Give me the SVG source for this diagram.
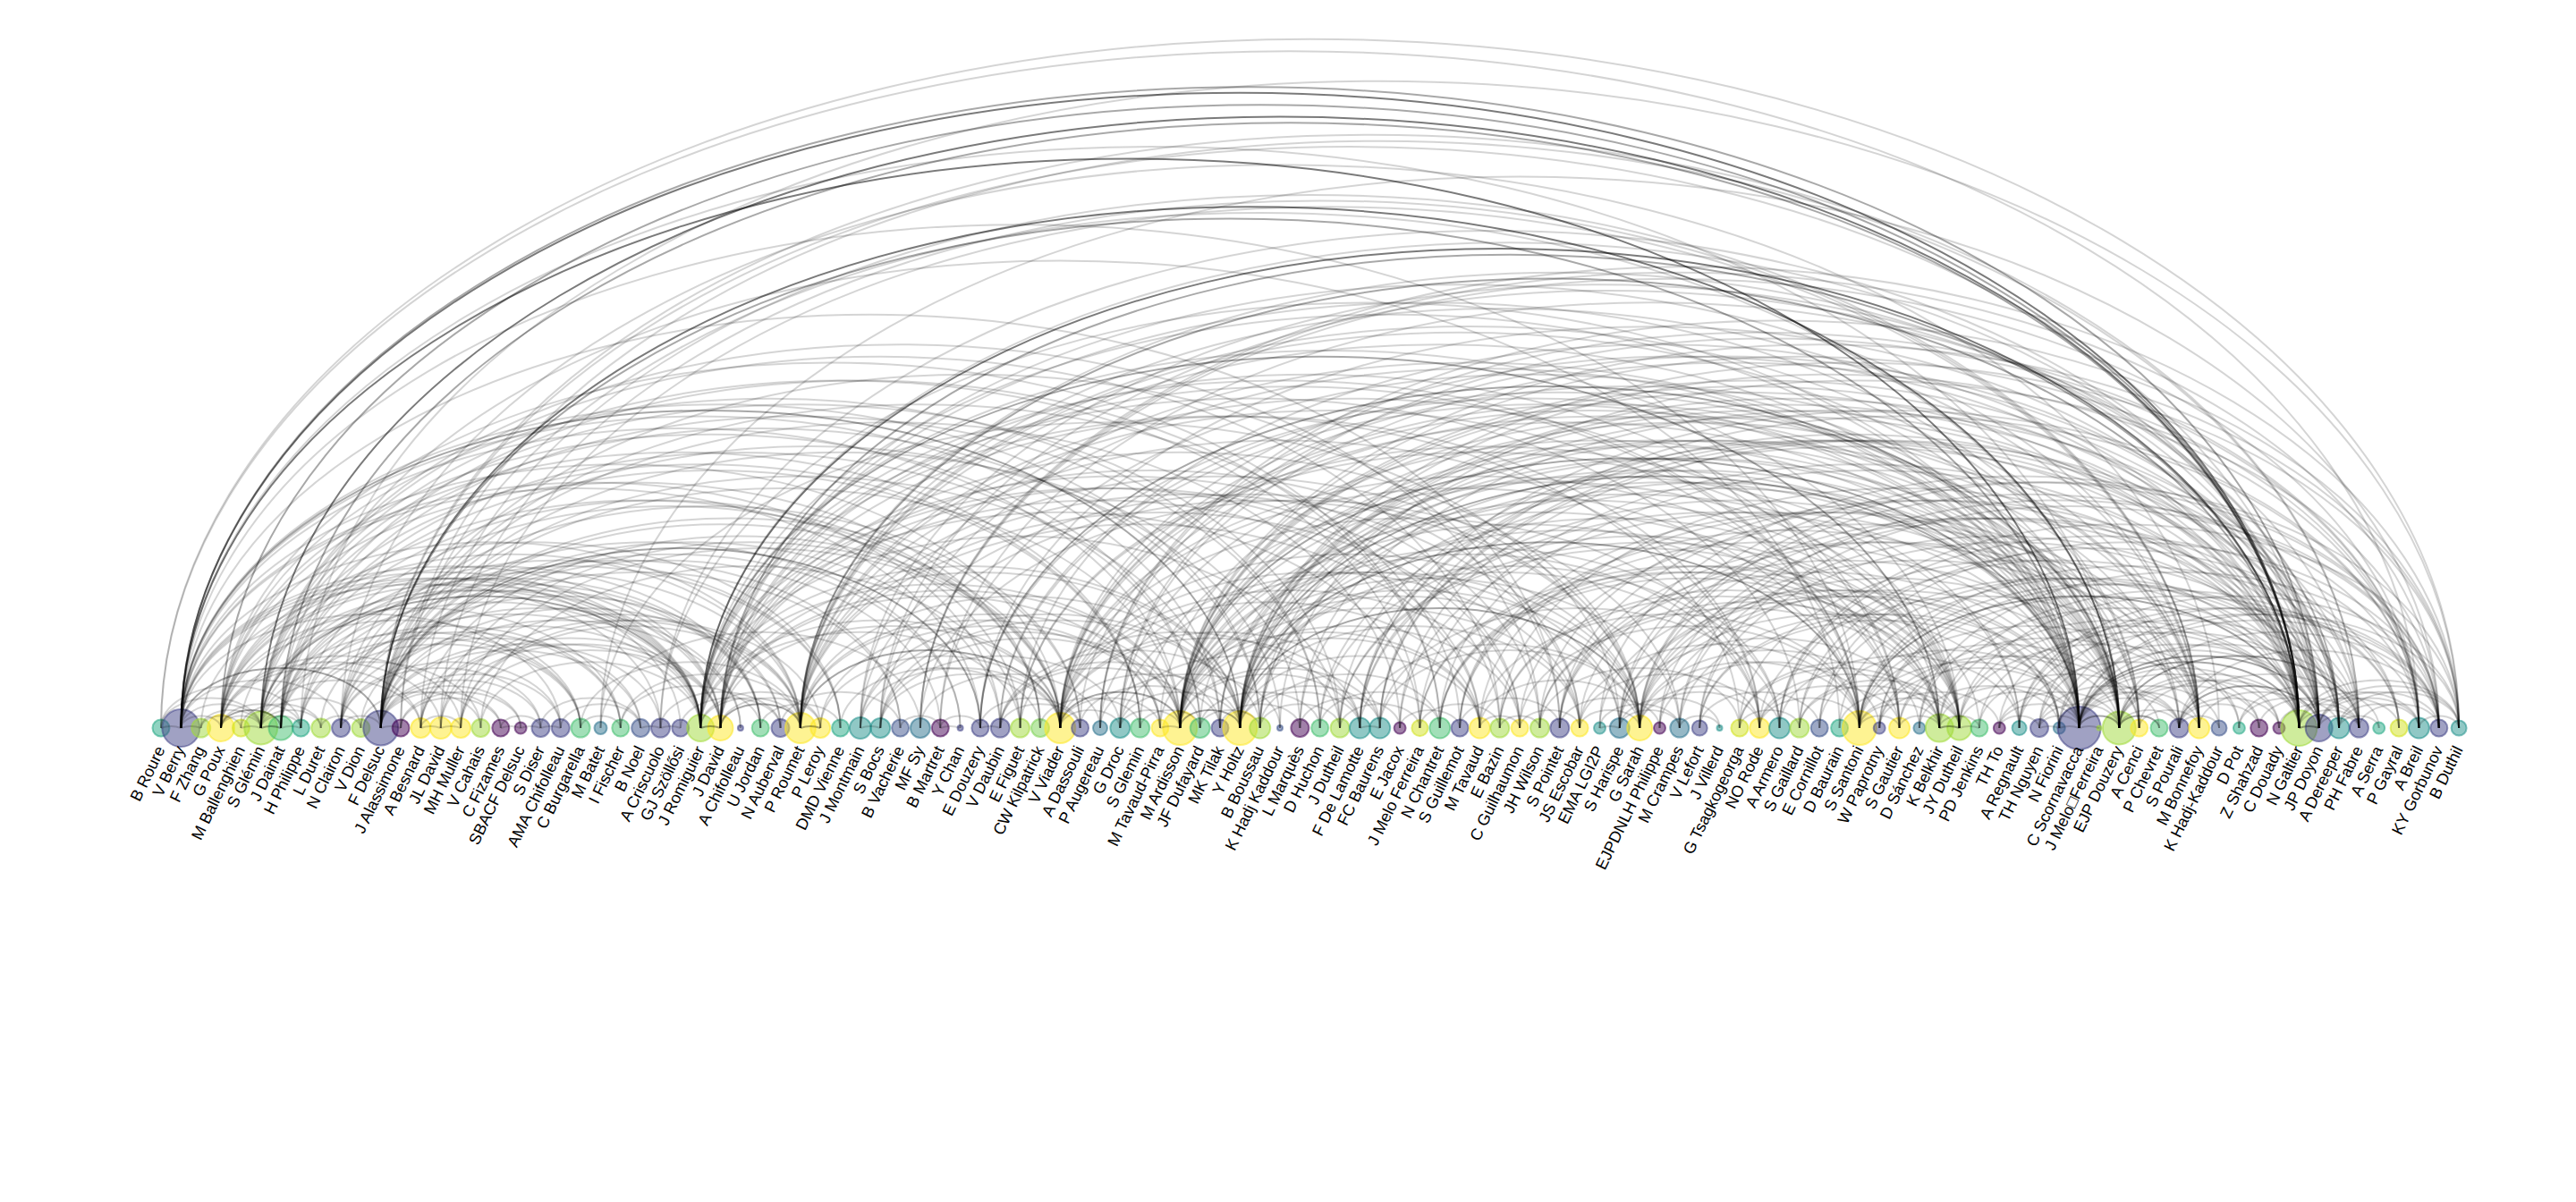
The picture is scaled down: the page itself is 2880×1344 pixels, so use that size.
<svg xmlns="http://www.w3.org/2000/svg" width="2880" height="1344" viewBox="0 0 2880 1344">
<style>
.e path{fill:none;stroke:#000;stroke-opacity:.17;stroke-width:2;vector-effect:non-scaling-stroke}
.e path.b{stroke-opacity:.34}
.e path.c{stroke-opacity:.52}
.n circle{stroke-width:2;fill-opacity:.5;stroke-opacity:.55}
.n text{font-family:"Liberation Sans",Arial,sans-serif;font-size:18px;text-anchor:end;fill:#000}
.p0{fill:#440154;stroke:#440154}
.p1{fill:#414487;stroke:#414487}
.p2{fill:#3b528b;stroke:#3b528b}
.p3{fill:#2c728e;stroke:#2c728e}
.p4{fill:#21918c;stroke:#21918c}
.p5{fill:#22a884;stroke:#22a884}
.p6{fill:#44bf70;stroke:#44bf70}
.p7{fill:#7ad151;stroke:#7ad151}
.p8{fill:#a0da39;stroke:#a0da39}
.p9{fill:#d2e21b;stroke:#d2e21b}
.p10{fill:#fde725;stroke:#fde725}
</style>
<rect width="2880" height="1344" fill="#fff"/>
<g id="nodes">
<g id="n1" class="n" transform="translate(180.0,814)"><circle r="9.5" class="p5"/><text transform="translate(5,24) rotate(-64)">B Roure</text></g>
<g id="n2" class="n" transform="translate(202.3,814)"><circle r="21" class="p1"/><text transform="translate(5,24) rotate(-64)">V Berry</text></g>
<g id="n3" class="n" transform="translate(224.7,814)"><circle r="10.5" class="p8"/><text transform="translate(5,24) rotate(-64)">F Zhang</text></g>
<g id="n4" class="n" transform="translate(247.0,814)"><circle r="15" class="p10"/><text transform="translate(5,24) rotate(-64)">G Poux</text></g>
<g id="n5" class="n" transform="translate(269.4,814)"><circle r="9.5" class="p9"/><text transform="translate(5,24) rotate(-64)">M Ballenghien</text></g>
<g id="n6" class="n" transform="translate(291.7,814)"><circle r="18.5" class="p8"/><text transform="translate(5,24) rotate(-64)">S Glémin</text></g>
<g id="n7" class="n" transform="translate(314.0,814)"><circle r="13.5" class="p6"/><text transform="translate(5,24) rotate(-64)">J Dainat</text></g>
<g id="n8" class="n" transform="translate(336.4,814)"><circle r="9.5" class="p5"/><text transform="translate(5,24) rotate(-64)">H Philippe</text></g>
<g id="n9" class="n" transform="translate(358.7,814)"><circle r="10.5" class="p8"/><text transform="translate(5,24) rotate(-64)">L Duret</text></g>
<g id="n10" class="n" transform="translate(381.1,814)"><circle r="10" class="p1"/><text transform="translate(5,24) rotate(-64)">N Clairon</text></g>
<g id="n11" class="n" transform="translate(403.4,814)"><circle r="10" class="p8"/><text transform="translate(5,24) rotate(-64)">V Dion</text></g>
<g id="n12" class="n" transform="translate(425.7,814)"><circle r="19.5" class="p1"/><text transform="translate(5,24) rotate(-64)">F Delsuc</text></g>
<g id="n13" class="n" transform="translate(448.1,814)"><circle r="9.5" class="p0"/><text transform="translate(5,24) rotate(-64)">J Alassimone</text></g>
<g id="n14" class="n" transform="translate(470.4,814)"><circle r="11" class="p10"/><text transform="translate(5,24) rotate(-64)">A Besnard</text></g>
<g id="n15" class="n" transform="translate(492.8,814)"><circle r="12" class="p10"/><text transform="translate(5,24) rotate(-64)">JL David</text></g>
<g id="n16" class="n" transform="translate(515.1,814)"><circle r="11" class="p10"/><text transform="translate(5,24) rotate(-64)">MH Muller</text></g>
<g id="n17" class="n" transform="translate(537.4,814)"><circle r="10" class="p8"/><text transform="translate(5,24) rotate(-64)">V Cahais</text></g>
<g id="n18" class="n" transform="translate(559.8,814)"><circle r="9.5" class="p0"/><text transform="translate(5,24) rotate(-64)">C Fizames</text></g>
<g id="n19" class="n" transform="translate(582.1,814)"><circle r="6.5" class="p0"/><text transform="translate(5,24) rotate(-64)">SBACF Delsuc</text></g>
<g id="n20" class="n" transform="translate(604.5,814)"><circle r="10" class="p1"/><text transform="translate(5,24) rotate(-64)">S Diser</text></g>
<g id="n21" class="n" transform="translate(626.8,814)"><circle r="10" class="p1"/><text transform="translate(5,24) rotate(-64)">AMA Chifolleau</text></g>
<g id="n22" class="n" transform="translate(649.1,814)"><circle r="10.5" class="p6"/><text transform="translate(5,24) rotate(-64)">C Burgarella</text></g>
<g id="n23" class="n" transform="translate(671.5,814)"><circle r="7" class="p3"/><text transform="translate(5,24) rotate(-64)">M Batet</text></g>
<g id="n24" class="n" transform="translate(693.8,814)"><circle r="9.5" class="p6"/><text transform="translate(5,24) rotate(-64)">I Fischer</text></g>
<g id="n25" class="n" transform="translate(716.2,814)"><circle r="10" class="p2"/><text transform="translate(5,24) rotate(-64)">B Noel</text></g>
<g id="n26" class="n" transform="translate(738.5,814)"><circle r="10.5" class="p1"/><text transform="translate(5,24) rotate(-64)">A Criscuolo</text></g>
<g id="n27" class="n" transform="translate(760.8,814)"><circle r="9.5" class="p1"/><text transform="translate(5,24) rotate(-64)">GJ Szöllősi</text></g>
<g id="n28" class="n" transform="translate(783.2,814)"><circle r="15" class="p8"/><text transform="translate(5,24) rotate(-64)">J Romiguier</text></g>
<g id="n29" class="n" transform="translate(805.5,814)"><circle r="14" class="p10"/><text transform="translate(5,24) rotate(-64)">J David</text></g>
<g id="n30" class="n" transform="translate(827.9,814)"><circle r="3" class="p1"/><text transform="translate(5,24) rotate(-64)">A Chifolleau</text></g>
<g id="n31" class="n" transform="translate(850.2,814)"><circle r="9.5" class="p6"/><text transform="translate(5,24) rotate(-64)">U Jordan</text></g>
<g id="n32" class="n" transform="translate(872.5,814)"><circle r="10" class="p1"/><text transform="translate(5,24) rotate(-64)">N Auberval</text></g>
<g id="n33" class="n" transform="translate(894.9,814)"><circle r="17" class="p10"/><text transform="translate(5,24) rotate(-64)">P Roumet</text></g>
<g id="n34" class="n" transform="translate(917.2,814)"><circle r="11" class="p10"/><text transform="translate(5,24) rotate(-64)">P Leroy</text></g>
<g id="n35" class="n" transform="translate(939.6,814)"><circle r="9.5" class="p5"/><text transform="translate(5,24) rotate(-64)">DMD Vienne</text></g>
<g id="n36" class="n" transform="translate(961.9,814)"><circle r="12" class="p4"/><text transform="translate(5,24) rotate(-64)">J Montmain</text></g>
<g id="n37" class="n" transform="translate(984.2,814)"><circle r="11" class="p4"/><text transform="translate(5,24) rotate(-64)">S Bocs</text></g>
<g id="n38" class="n" transform="translate(1006.6,814)"><circle r="9.5" class="p2"/><text transform="translate(5,24) rotate(-64)">B Vacherie</text></g>
<g id="n39" class="n" transform="translate(1028.9,814)"><circle r="11" class="p3"/><text transform="translate(5,24) rotate(-64)">MF Sy</text></g>
<g id="n40" class="n" transform="translate(1051.3,814)"><circle r="9.5" class="p0"/><text transform="translate(5,24) rotate(-64)">B Martret</text></g>
<g id="n41" class="n" transform="translate(1073.6,814)"><circle r="3" class="p1"/><text transform="translate(5,24) rotate(-64)">Y Chan</text></g>
<g id="n42" class="n" transform="translate(1095.9,814)"><circle r="9.5" class="p1"/><text transform="translate(5,24) rotate(-64)">E Douzery</text></g>
<g id="n43" class="n" transform="translate(1118.3,814)"><circle r="10.5" class="p1"/><text transform="translate(5,24) rotate(-64)">V Daubin</text></g>
<g id="n44" class="n" transform="translate(1140.6,814)"><circle r="10.5" class="p8"/><text transform="translate(5,24) rotate(-64)">E Figuet</text></g>
<g id="n45" class="n" transform="translate(1163.0,814)"><circle r="10" class="p7"/><text transform="translate(5,24) rotate(-64)">CW Kilpatrick</text></g>
<g id="n46" class="n" transform="translate(1185.3,814)"><circle r="17" class="p10"/><text transform="translate(5,24) rotate(-64)">V Viader</text></g>
<g id="n47" class="n" transform="translate(1207.6,814)"><circle r="9.5" class="p1"/><text transform="translate(5,24) rotate(-64)">A Dassouli</text></g>
<g id="n48" class="n" transform="translate(1230.0,814)"><circle r="8" class="p3"/><text transform="translate(5,24) rotate(-64)">P Augereau</text></g>
<g id="n49" class="n" transform="translate(1252.3,814)"><circle r="11" class="p4"/><text transform="translate(5,24) rotate(-64)">G Droc</text></g>
<g id="n50" class="n" transform="translate(1274.7,814)"><circle r="10.5" class="p6"/><text transform="translate(5,24) rotate(-64)">S Glemin</text></g>
<g id="n51" class="n" transform="translate(1297.0,814)"><circle r="9.5" class="p10"/><text transform="translate(5,24) rotate(-64)">M Tavaud-Pirra</text></g>
<g id="n52" class="n" transform="translate(1319.3,814)"><circle r="19" class="p10"/><text transform="translate(5,24) rotate(-64)">M Ardisson</text></g>
<g id="n53" class="n" transform="translate(1341.7,814)"><circle r="11" class="p6"/><text transform="translate(5,24) rotate(-64)">JF Dufayard</text></g>
<g id="n54" class="n" transform="translate(1364.0,814)"><circle r="9.5" class="p1"/><text transform="translate(5,24) rotate(-64)">MK Tilak</text></g>
<g id="n55" class="n" transform="translate(1386.4,814)"><circle r="19" class="p10"/><text transform="translate(5,24) rotate(-64)">Y Holtz</text></g>
<g id="n56" class="n" transform="translate(1408.7,814)"><circle r="11.5" class="p8"/><text transform="translate(5,24) rotate(-64)">B Boussau</text></g>
<g id="n57" class="n" transform="translate(1431.0,814)"><circle r="3" class="p2"/><text transform="translate(5,24) rotate(-64)">K Hadj Kaddour</text></g>
<g id="n58" class="n" transform="translate(1453.4,814)"><circle r="10" class="p0"/><text transform="translate(5,24) rotate(-64)">L Marquès</text></g>
<g id="n59" class="n" transform="translate(1475.7,814)"><circle r="9.5" class="p6"/><text transform="translate(5,24) rotate(-64)">D Huchon</text></g>
<g id="n60" class="n" transform="translate(1498.1,814)"><circle r="10.5" class="p8"/><text transform="translate(5,24) rotate(-64)">J Dutheil</text></g>
<g id="n61" class="n" transform="translate(1520.4,814)"><circle r="11.5" class="p4"/><text transform="translate(5,24) rotate(-64)">F De Lamotte</text></g>
<g id="n62" class="n" transform="translate(1542.7,814)"><circle r="11.5" class="p4"/><text transform="translate(5,24) rotate(-64)">FC Baurens</text></g>
<g id="n63" class="n" transform="translate(1565.1,814)"><circle r="6.5" class="p0"/><text transform="translate(5,24) rotate(-64)">E Jacox</text></g>
<g id="n64" class="n" transform="translate(1587.4,814)"><circle r="9" class="p9"/><text transform="translate(5,24) rotate(-64)">J Melo Ferreira</text></g>
<g id="n65" class="n" transform="translate(1609.8,814)"><circle r="11.5" class="p6"/><text transform="translate(5,24) rotate(-64)">N Chantret</text></g>
<g id="n66" class="n" transform="translate(1632.1,814)"><circle r="9.5" class="p1"/><text transform="translate(5,24) rotate(-64)">S Guillemot</text></g>
<g id="n67" class="n" transform="translate(1654.4,814)"><circle r="11.5" class="p10"/><text transform="translate(5,24) rotate(-64)">M Tavaud</text></g>
<g id="n68" class="n" transform="translate(1676.8,814)"><circle r="10.5" class="p8"/><text transform="translate(5,24) rotate(-64)">E Bazin</text></g>
<g id="n69" class="n" transform="translate(1699.1,814)"><circle r="9.5" class="p10"/><text transform="translate(5,24) rotate(-64)">C Guilhaumon</text></g>
<g id="n70" class="n" transform="translate(1721.5,814)"><circle r="10.5" class="p8"/><text transform="translate(5,24) rotate(-64)">JH Wilson</text></g>
<g id="n71" class="n" transform="translate(1743.8,814)"><circle r="10.5" class="p1"/><text transform="translate(5,24) rotate(-64)">S Pointet</text></g>
<g id="n72" class="n" transform="translate(1766.1,814)"><circle r="9.5" class="p10"/><text transform="translate(5,24) rotate(-64)">JS Escobar</text></g>
<g id="n73" class="n" transform="translate(1788.5,814)"><circle r="6.5" class="p4"/><text transform="translate(5,24) rotate(-64)">EMA LGI2P</text></g>
<g id="n74" class="n" transform="translate(1810.8,814)"><circle r="11" class="p3"/><text transform="translate(5,24) rotate(-64)">S Harispe</text></g>
<g id="n75" class="n" transform="translate(1833.2,814)"><circle r="14" class="p10"/><text transform="translate(5,24) rotate(-64)">G Sarah</text></g>
<g id="n76" class="n" transform="translate(1855.5,814)"><circle r="6.5" class="p0"/><text transform="translate(5,24) rotate(-64)">EJPDNLH Philippe</text></g>
<g id="n77" class="n" transform="translate(1877.8,814)"><circle r="10.5" class="p3"/><text transform="translate(5,24) rotate(-64)">M Crampes</text></g>
<g id="n78" class="n" transform="translate(1900.2,814)"><circle r="8.5" class="p1"/><text transform="translate(5,24) rotate(-64)">V Lefort</text></g>
<g id="n79" class="n" transform="translate(1922.5,814)"><circle r="3" class="p4"/><text transform="translate(5,24) rotate(-64)">J Villerd</text></g>
<g id="n80" class="n" transform="translate(1944.9,814)"><circle r="9.5" class="p9"/><text transform="translate(5,24) rotate(-64)">G Tsagkogeorga</text></g>
<g id="n81" class="n" transform="translate(1967.2,814)"><circle r="11" class="p10"/><text transform="translate(5,24) rotate(-64)">NO Rode</text></g>
<g id="n82" class="n" transform="translate(1989.5,814)"><circle r="11.5" class="p4"/><text transform="translate(5,24) rotate(-64)">A Armero</text></g>
<g id="n83" class="n" transform="translate(2011.9,814)"><circle r="10.5" class="p8"/><text transform="translate(5,24) rotate(-64)">S Gaillard</text></g>
<g id="n84" class="n" transform="translate(2034.2,814)"><circle r="9.5" class="p2"/><text transform="translate(5,24) rotate(-64)">E Cornillot</text></g>
<g id="n85" class="n" transform="translate(2056.6,814)"><circle r="9.5" class="p5"/><text transform="translate(5,24) rotate(-64)">D Baurain</text></g>
<g id="n86" class="n" transform="translate(2078.9,814)"><circle r="19" class="p10"/><text transform="translate(5,24) rotate(-64)">S Santoni</text></g>
<g id="n87" class="n" transform="translate(2101.2,814)"><circle r="6.5" class="p1"/><text transform="translate(5,24) rotate(-64)">W Paprotny</text></g>
<g id="n88" class="n" transform="translate(2123.6,814)"><circle r="11.5" class="p10"/><text transform="translate(5,24) rotate(-64)">S Gautier</text></g>
<g id="n89" class="n" transform="translate(2145.9,814)"><circle r="6.5" class="p3"/><text transform="translate(5,24) rotate(-64)">D Sánchez</text></g>
<g id="n90" class="n" transform="translate(2168.3,814)"><circle r="15.5" class="p8"/><text transform="translate(5,24) rotate(-64)">K Belkhir</text></g>
<g id="n91" class="n" transform="translate(2190.6,814)"><circle r="13.5" class="p8"/><text transform="translate(5,24) rotate(-64)">JY Dutheil</text></g>
<g id="n92" class="n" transform="translate(2212.9,814)"><circle r="9.5" class="p6"/><text transform="translate(5,24) rotate(-64)">PD Jenkins</text></g>
<g id="n93" class="n" transform="translate(2235.3,814)"><circle r="6.5" class="p0"/><text transform="translate(5,24) rotate(-64)">TH To</text></g>
<g id="n94" class="n" transform="translate(2257.6,814)"><circle r="8" class="p4"/><text transform="translate(5,24) rotate(-64)">A Regnault</text></g>
<g id="n95" class="n" transform="translate(2280.0,814)"><circle r="10" class="p1"/><text transform="translate(5,24) rotate(-64)">TH Nguyen</text></g>
<g id="n96" class="n" transform="translate(2302.3,814)"><circle r="6.5" class="p3"/><text transform="translate(5,24) rotate(-64)">N Fiorini</text></g>
<g id="n97" class="n" transform="translate(2324.6,814)"><circle r="24" class="p1"/><text transform="translate(5,24) rotate(-64)">C Scornavacca</text></g>
<g id="n98" class="n" transform="translate(2347.0,814)"><circle r="2.5" class="p8"/><text transform="translate(5,24) rotate(-64)">J Melo□Ferreira</text></g>
<g id="n99" class="n" transform="translate(2369.3,814)"><circle r="18.5" class="p8"/><text transform="translate(5,24) rotate(-64)">EJP Douzery</text></g>
<g id="n100" class="n" transform="translate(2391.7,814)"><circle r="9.5" class="p10"/><text transform="translate(5,24) rotate(-64)">A Cenci</text></g>
<g id="n101" class="n" transform="translate(2414.0,814)"><circle r="9.5" class="p6"/><text transform="translate(5,24) rotate(-64)">P Chevret</text></g>
<g id="n102" class="n" transform="translate(2436.3,814)"><circle r="10.5" class="p1"/><text transform="translate(5,24) rotate(-64)">S Pourali</text></g>
<g id="n103" class="n" transform="translate(2458.7,814)"><circle r="11.5" class="p10"/><text transform="translate(5,24) rotate(-64)">M Bonnefoy</text></g>
<g id="n104" class="n" transform="translate(2481.0,814)"><circle r="8.5" class="p2"/><text transform="translate(5,24) rotate(-64)">K Hadj-Kaddour</text></g>
<g id="n105" class="n" transform="translate(2503.4,814)"><circle r="6.5" class="p5"/><text transform="translate(5,24) rotate(-64)">D Pot</text></g>
<g id="n106" class="n" transform="translate(2525.7,814)"><circle r="9.5" class="p0"/><text transform="translate(5,24) rotate(-64)">Z Shahzad</text></g>
<g id="n107" class="n" transform="translate(2548.0,814)"><circle r="6.5" class="p0"/><text transform="translate(5,24) rotate(-64)">C Douady</text></g>
<g id="n108" class="n" transform="translate(2570.4,814)"><circle r="20" class="p8"/><text transform="translate(5,24) rotate(-64)">N Galtier</text></g>
<g id="n109" class="n" transform="translate(2592.7,814)"><circle r="15" class="p1"/><text transform="translate(5,24) rotate(-64)">JP Doyon</text></g>
<g id="n110" class="n" transform="translate(2615.1,814)"><circle r="11.5" class="p4"/><text transform="translate(5,24) rotate(-64)">A Dereeper</text></g>
<g id="n111" class="n" transform="translate(2637.4,814)"><circle r="10.5" class="p1"/><text transform="translate(5,24) rotate(-64)">PH Fabre</text></g>
<g id="n112" class="n" transform="translate(2659.7,814)"><circle r="6.5" class="p5"/><text transform="translate(5,24) rotate(-64)">A Serra</text></g>
<g id="n113" class="n" transform="translate(2682.1,814)"><circle r="9.5" class="p9"/><text transform="translate(5,24) rotate(-64)">P Gayral</text></g>
<g id="n114" class="n" transform="translate(2704.4,814)"><circle r="11.5" class="p4"/><text transform="translate(5,24) rotate(-64)">A Breil</text></g>
<g id="n115" class="n" transform="translate(2726.8,814)"><circle r="9.5" class="p1"/><text transform="translate(5,24) rotate(-64)">KY Gorbunov</text></g>
<g id="n116" class="n" transform="translate(2749.1,814)"><circle r="8.5" class="p4"/><text transform="translate(5,24) rotate(-64)">B Duthil</text></g>
</g>
<g id="edges" class="e" transform="translate(157.66 814) scale(22.34 13.4)">
<path class="c" d="M2 0A1 1 0 0 1 108 0"/><path class="c" d="M2 0A1 1 0 0 1 97 0"/><path class="b" d="M2 0A1 1 0 0 1 109 0"/><path d="M2 0A1 1 0 0 1 99 0"/><path class="b" d="M2 0A1 1 0 0 1 12 0"/><path class="b" d="M2 0A1 1 0 0 1 55 0"/>
<path d="M2 0A1 1 0 0 1 6 0"/><path d="M2 0A1 1 0 0 1 26 0"/><path d="M2 0A1 1 0 0 1 28 0"/><path d="M2 0A1 1 0 0 1 29 0"/><path d="M2 0A1 1 0 0 1 33 0"/><path d="M2 0A1 1 0 0 1 43 0"/><path d="M2 0A1 1 0 0 1 46 0"/><path d="M2 0A1 1 0 0 1 52 0"/><path d="M2 0A1 1 0 0 1 56 0"/><path d="M2 0A1 1 0 0 1 86 0"/><path d="M1 0A1 1 0 0 1 2 0"/><path d="M2 0A1 1 0 0 1 3 0"/><path d="M2 0A1 1 0 0 1 4 0"/><path d="M2 0A1 1 0 0 1 10 0"/><path d="M2 0A1 1 0 0 1 21 0"/><path d="M2 0A1 1 0 0 1 27 0"/><path d="M2 0A1 1 0 0 1 42 0"/><path d="M2 0A1 1 0 0 1 54 0"/><path d="M2 0A1 1 0 0 1 71 0"/>
<path class="c" d="M12 0A1 1 0 0 1 99 0"/><path class="b" d="M12 0A1 1 0 0 1 97 0"/><path d="M12 0A1 1 0 0 1 109 0"/><path d="M12 0A1 1 0 0 1 111 0"/><path d="M12 0A1 1 0 0 1 13 0"/><path d="M12 0A1 1 0 0 1 18 0"/><path d="M12 0A1 1 0 0 1 19 0"/><path d="M12 0A1 1 0 0 1 20 0"/><path d="M12 0A1 1 0 0 1 21 0"/><path d="M12 0A1 1 0 0 1 25 0"/><path d="M12 0A1 1 0 0 1 26 0"/><path d="M12 0A1 1 0 0 1 32 0"/><path d="M12 0A1 1 0 0 1 38 0"/><path d="M12 0A1 1 0 0 1 40 0"/><path class="b" d="M12 0A1 1 0 0 1 42 0"/><path d="M12 0A1 1 0 0 1 43 0"/><path d="M12 0A1 1 0 0 1 46 0"/><path d="M12 0A1 1 0 0 1 52 0"/><path d="M12 0A1 1 0 0 1 54 0"/><path d="M12 0A1 1 0 0 1 58 0"/><path d="M12 0A1 1 0 0 1 63 0"/><path d="M12 0A1 1 0 0 1 66 0"/><path d="M12 0A1 1 0 0 1 71 0"/><path d="M10 0A1 1 0 0 1 12 0"/><path d="M12 0A1 1 0 0 1 30 0"/><path d="M12 0A1 1 0 0 1 41 0"/><path d="M12 0A1 1 0 0 1 47 0"/>
<path d="M26 0A1 1 0 0 1 97 0"/><path d="M28 0A1 1 0 0 1 97 0"/><path d="M33 0A1 1 0 0 1 97 0"/><path d="M42 0A1 1 0 0 1 97 0"/><path d="M43 0A1 1 0 0 1 97 0"/><path d="M46 0A1 1 0 0 1 97 0"/><path class="b" d="M52 0A1 1 0 0 1 97 0"/><path d="M54 0A1 1 0 0 1 97 0"/><path class="b" d="M55 0A1 1 0 0 1 97 0"/><path d="M56 0A1 1 0 0 1 97 0"/><path d="M61 0A1 1 0 0 1 97 0"/><path d="M71 0A1 1 0 0 1 97 0"/><path d="M74 0A1 1 0 0 1 97 0"/><path d="M75 0A1 1 0 0 1 97 0"/><path d="M86 0A1 1 0 0 1 97 0"/><path d="M90 0A1 1 0 0 1 97 0"/><path d="M91 0A1 1 0 0 1 97 0"/><path d="M95 0A1 1 0 0 1 97 0"/><path d="M96 0A1 1 0 0 1 97 0"/><path d="M97 0A1 1 0 0 1 98 0"/><path class="b" d="M97 0A1 1 0 0 1 99 0"/><path d="M97 0A1 1 0 0 1 102 0"/><path d="M97 0A1 1 0 0 1 103 0"/><path d="M97 0A1 1 0 0 1 104 0"/><path d="M97 0A1 1 0 0 1 106 0"/><path d="M97 0A1 1 0 0 1 107 0"/><path d="M97 0A1 1 0 0 1 111 0"/><path d="M97 0A1 1 0 0 1 115 0"/><path d="M97 0A1 1 0 0 1 116 0"/><path d="M36 0A1 1 0 0 1 97 0"/><path d="M37 0A1 1 0 0 1 97 0"/><path d="M49 0A1 1 0 0 1 97 0"/><path class="b" d="M97 0A1 1 0 0 1 109 0"/><path class="b" d="M97 0A1 1 0 0 1 108 0"/><path d="M66 0A1 1 0 0 1 97 0"/><path d="M78 0A1 1 0 0 1 97 0"/><path d="M84 0A1 1 0 0 1 97 0"/><path d="M87 0A1 1 0 0 1 97 0"/><path d="M93 0A1 1 0 0 1 97 0"/>
<path class="b" d="M4 0A1 1 0 0 1 108 0"/><path class="c" d="M6 0A1 1 0 0 1 108 0"/><path class="b" d="M7 0A1 1 0 0 1 108 0"/><path class="c" d="M28 0A1 1 0 0 1 108 0"/><path class="b" d="M29 0A1 1 0 0 1 108 0"/><path class="b" d="M33 0A1 1 0 0 1 108 0"/><path d="M44 0A1 1 0 0 1 108 0"/><path d="M46 0A1 1 0 0 1 108 0"/><path d="M52 0A1 1 0 0 1 108 0"/><path d="M55 0A1 1 0 0 1 108 0"/><path d="M56 0A1 1 0 0 1 108 0"/><path d="M60 0A1 1 0 0 1 108 0"/><path d="M64 0A1 1 0 0 1 108 0"/><path d="M68 0A1 1 0 0 1 108 0"/><path d="M70 0A1 1 0 0 1 108 0"/><path d="M83 0A1 1 0 0 1 108 0"/><path class="b" d="M86 0A1 1 0 0 1 108 0"/><path d="M90 0A1 1 0 0 1 108 0"/><path d="M91 0A1 1 0 0 1 108 0"/><path d="M99 0A1 1 0 0 1 108 0"/><path class="b" d="M108 0A1 1 0 0 1 109 0"/><path d="M108 0A1 1 0 0 1 111 0"/><path d="M108 0A1 1 0 0 1 113 0"/><path d="M108 0A1 1 0 0 1 114 0"/><path d="M108 0A1 1 0 0 1 116 0"/><path d="M80 0A1 1 0 0 1 108 0"/><path d="M65 0A1 1 0 0 1 108 0"/><path d="M100 0A1 1 0 0 1 108 0"/><path d="M92 0A1 1 0 0 1 108 0"/>
<path d="M33 0A1 1 0 0 1 109 0"/><path d="M42 0A1 1 0 0 1 109 0"/><path d="M52 0A1 1 0 0 1 109 0"/><path d="M55 0A1 1 0 0 1 109 0"/><path d="M61 0A1 1 0 0 1 109 0"/><path d="M62 0A1 1 0 0 1 109 0"/><path d="M74 0A1 1 0 0 1 109 0"/><path d="M77 0A1 1 0 0 1 109 0"/><path d="M78 0A1 1 0 0 1 109 0"/><path d="M84 0A1 1 0 0 1 109 0"/><path d="M95 0A1 1 0 0 1 109 0"/><path d="M96 0A1 1 0 0 1 109 0"/><path class="b" d="M102 0A1 1 0 0 1 109 0"/><path d="M103 0A1 1 0 0 1 109 0"/><path d="M109 0A1 1 0 0 1 111 0"/><path d="M109 0A1 1 0 0 1 114 0"/><path d="M109 0A1 1 0 0 1 115 0"/><path d="M109 0A1 1 0 0 1 116 0"/><path d="M28 0A1 1 0 0 1 109 0"/><path d="M26 0A1 1 0 0 1 109 0"/><path d="M71 0A1 1 0 0 1 109 0"/><path d="M87 0A1 1 0 0 1 109 0"/><path d="M89 0A1 1 0 0 1 109 0"/>
<path d="M33 0A1 1 0 0 1 99 0"/><path d="M40 0A1 1 0 0 1 99 0"/><path class="b" d="M42 0A1 1 0 0 1 99 0"/><path d="M46 0A1 1 0 0 1 99 0"/><path d="M47 0A1 1 0 0 1 99 0"/><path d="M52 0A1 1 0 0 1 99 0"/><path d="M54 0A1 1 0 0 1 99 0"/><path d="M58 0A1 1 0 0 1 99 0"/><path d="M59 0A1 1 0 0 1 99 0"/><path d="M63 0A1 1 0 0 1 99 0"/><path d="M66 0A1 1 0 0 1 99 0"/><path d="M71 0A1 1 0 0 1 99 0"/><path d="M76 0A1 1 0 0 1 99 0"/><path d="M87 0A1 1 0 0 1 99 0"/><path d="M93 0A1 1 0 0 1 99 0"/><path d="M95 0A1 1 0 0 1 99 0"/><path class="b" d="M99 0A1 1 0 0 1 101 0"/><path d="M99 0A1 1 0 0 1 102 0"/><path d="M99 0A1 1 0 0 1 106 0"/><path d="M99 0A1 1 0 0 1 107 0"/><path class="b" d="M99 0A1 1 0 0 1 111 0"/><path d="M99 0A1 1 0 0 1 115 0"/><path d="M13 0A1 1 0 0 1 99 0"/><path d="M43 0A1 1 0 0 1 99 0"/><path d="M56 0A1 1 0 0 1 99 0"/><path d="M61 0A1 1 0 0 1 99 0"/>
<path d="M4 0A1 1 0 0 1 6 0"/><path d="M5 0A1 1 0 0 1 6 0"/><path class="b" d="M6 0A1 1 0 0 1 7 0"/><path d="M6 0A1 1 0 0 1 9 0"/><path d="M6 0A1 1 0 0 1 11 0"/><path d="M6 0A1 1 0 0 1 17 0"/><path class="b" d="M6 0A1 1 0 0 1 28 0"/><path d="M6 0A1 1 0 0 1 29 0"/><path d="M6 0A1 1 0 0 1 44 0"/><path d="M6 0A1 1 0 0 1 50 0"/><path d="M6 0A1 1 0 0 1 56 0"/><path d="M6 0A1 1 0 0 1 60 0"/><path d="M6 0A1 1 0 0 1 64 0"/><path d="M6 0A1 1 0 0 1 68 0"/><path d="M6 0A1 1 0 0 1 70 0"/><path d="M3 0A1 1 0 0 1 6 0"/><path d="M1 0A1 1 0 0 1 6 0"/><path d="M6 0A1 1 0 0 1 8 0"/><path d="M6 0A1 1 0 0 1 14 0"/><path d="M6 0A1 1 0 0 1 22 0"/><path d="M6 0A1 1 0 0 1 31 0"/>
<path d="M4 0A1 1 0 0 1 28 0"/><path d="M5 0A1 1 0 0 1 28 0"/><path d="M7 0A1 1 0 0 1 28 0"/><path d="M9 0A1 1 0 0 1 28 0"/><path d="M11 0A1 1 0 0 1 28 0"/><path d="M14 0A1 1 0 0 1 28 0"/><path d="M17 0A1 1 0 0 1 28 0"/><path class="b" d="M28 0A1 1 0 0 1 29 0"/><path d="M28 0A1 1 0 0 1 33 0"/><path d="M28 0A1 1 0 0 1 34 0"/><path d="M28 0A1 1 0 0 1 44 0"/><path d="M28 0A1 1 0 0 1 46 0"/><path d="M28 0A1 1 0 0 1 52 0"/><path d="M28 0A1 1 0 0 1 55 0"/><path d="M28 0A1 1 0 0 1 60 0"/><path d="M28 0A1 1 0 0 1 64 0"/><path d="M28 0A1 1 0 0 1 68 0"/><path d="M28 0A1 1 0 0 1 70 0"/><path d="M28 0A1 1 0 0 1 80 0"/><path d="M28 0A1 1 0 0 1 83 0"/><path d="M28 0A1 1 0 0 1 86 0"/><path class="b" d="M28 0A1 1 0 0 1 90 0"/><path d="M28 0A1 1 0 0 1 91 0"/><path d="M3 0A1 1 0 0 1 28 0"/>
<path d="M14 0A1 1 0 0 1 29 0"/><path d="M15 0A1 1 0 0 1 29 0"/><path d="M16 0A1 1 0 0 1 29 0"/><path class="b" d="M29 0A1 1 0 0 1 33 0"/><path d="M29 0A1 1 0 0 1 34 0"/><path d="M29 0A1 1 0 0 1 46 0"/><path d="M29 0A1 1 0 0 1 51 0"/><path d="M29 0A1 1 0 0 1 52 0"/><path d="M29 0A1 1 0 0 1 55 0"/><path d="M29 0A1 1 0 0 1 67 0"/><path d="M29 0A1 1 0 0 1 69 0"/><path d="M29 0A1 1 0 0 1 72 0"/><path d="M29 0A1 1 0 0 1 75 0"/><path d="M29 0A1 1 0 0 1 81 0"/><path d="M29 0A1 1 0 0 1 86 0"/><path d="M29 0A1 1 0 0 1 88 0"/><path d="M29 0A1 1 0 0 1 100 0"/><path d="M29 0A1 1 0 0 1 103 0"/><path d="M4 0A1 1 0 0 1 29 0"/>
<path d="M14 0A1 1 0 0 1 33 0"/><path d="M15 0A1 1 0 0 1 33 0"/><path d="M16 0A1 1 0 0 1 33 0"/><path class="b" d="M33 0A1 1 0 0 1 34 0"/><path class="b" d="M33 0A1 1 0 0 1 46 0"/><path d="M33 0A1 1 0 0 1 51 0"/><path d="M33 0A1 1 0 0 1 52 0"/><path d="M33 0A1 1 0 0 1 55 0"/><path d="M33 0A1 1 0 0 1 67 0"/><path d="M33 0A1 1 0 0 1 69 0"/><path d="M33 0A1 1 0 0 1 72 0"/><path d="M33 0A1 1 0 0 1 75 0"/><path d="M33 0A1 1 0 0 1 81 0"/><path d="M33 0A1 1 0 0 1 86 0"/><path d="M33 0A1 1 0 0 1 88 0"/><path d="M33 0A1 1 0 0 1 100 0"/><path d="M33 0A1 1 0 0 1 103 0"/><path d="M4 0A1 1 0 0 1 33 0"/><path d="M7 0A1 1 0 0 1 33 0"/><path d="M24 0A1 1 0 0 1 33 0"/><path d="M22 0A1 1 0 0 1 33 0"/>
<path d="M14 0A1 1 0 0 1 46 0"/><path d="M15 0A1 1 0 0 1 46 0"/><path d="M16 0A1 1 0 0 1 46 0"/><path d="M34 0A1 1 0 0 1 46 0"/><path d="M46 0A1 1 0 0 1 51 0"/><path class="b" d="M46 0A1 1 0 0 1 52 0"/><path d="M46 0A1 1 0 0 1 55 0"/><path d="M46 0A1 1 0 0 1 67 0"/><path d="M46 0A1 1 0 0 1 69 0"/><path d="M46 0A1 1 0 0 1 72 0"/><path d="M46 0A1 1 0 0 1 75 0"/><path d="M46 0A1 1 0 0 1 81 0"/><path d="M46 0A1 1 0 0 1 86 0"/><path d="M46 0A1 1 0 0 1 88 0"/><path d="M46 0A1 1 0 0 1 100 0"/><path d="M46 0A1 1 0 0 1 103 0"/><path d="M36 0A1 1 0 0 1 46 0"/><path d="M37 0A1 1 0 0 1 46 0"/><path d="M46 0A1 1 0 0 1 49 0"/><path d="M46 0A1 1 0 0 1 61 0"/><path d="M46 0A1 1 0 0 1 62 0"/>
<path d="M51 0A1 1 0 0 1 52 0"/><path class="b" d="M52 0A1 1 0 0 1 55 0"/><path d="M52 0A1 1 0 0 1 67 0"/><path d="M52 0A1 1 0 0 1 69 0"/><path d="M52 0A1 1 0 0 1 72 0"/><path d="M52 0A1 1 0 0 1 75 0"/><path d="M52 0A1 1 0 0 1 81 0"/><path d="M52 0A1 1 0 0 1 86 0"/><path d="M52 0A1 1 0 0 1 88 0"/><path d="M52 0A1 1 0 0 1 100 0"/><path d="M52 0A1 1 0 0 1 103 0"/><path d="M36 0A1 1 0 0 1 52 0"/><path d="M37 0A1 1 0 0 1 52 0"/><path d="M49 0A1 1 0 0 1 52 0"/><path d="M52 0A1 1 0 0 1 61 0"/><path d="M52 0A1 1 0 0 1 62 0"/><path d="M52 0A1 1 0 0 1 74 0"/><path d="M52 0A1 1 0 0 1 77 0"/><path d="M52 0A1 1 0 0 1 82 0"/><path d="M52 0A1 1 0 0 1 94 0"/><path d="M52 0A1 1 0 0 1 110 0"/><path d="M52 0A1 1 0 0 1 114 0"/><path d="M52 0A1 1 0 0 1 116 0"/>
<path d="M55 0A1 1 0 0 1 67 0"/><path d="M55 0A1 1 0 0 1 72 0"/><path class="b" d="M55 0A1 1 0 0 1 75 0"/><path d="M55 0A1 1 0 0 1 81 0"/><path class="b" d="M55 0A1 1 0 0 1 86 0"/><path d="M55 0A1 1 0 0 1 88 0"/><path d="M55 0A1 1 0 0 1 100 0"/><path d="M55 0A1 1 0 0 1 103 0"/><path d="M55 0A1 1 0 0 1 61 0"/><path d="M55 0A1 1 0 0 1 62 0"/><path d="M55 0A1 1 0 0 1 82 0"/><path d="M55 0A1 1 0 0 1 94 0"/><path d="M55 0A1 1 0 0 1 110 0"/><path d="M55 0A1 1 0 0 1 114 0"/><path d="M55 0A1 1 0 0 1 116 0"/><path d="M49 0A1 1 0 0 1 55 0"/><path d="M36 0A1 1 0 0 1 55 0"/><path d="M37 0A1 1 0 0 1 55 0"/>
<path d="M75 0A1 1 0 0 1 86 0"/><path d="M81 0A1 1 0 0 1 86 0"/><path d="M86 0A1 1 0 0 1 88 0"/><path d="M86 0A1 1 0 0 1 90 0"/><path d="M86 0A1 1 0 0 1 91 0"/><path d="M86 0A1 1 0 0 1 100 0"/><path d="M86 0A1 1 0 0 1 103 0"/><path d="M67 0A1 1 0 0 1 86 0"/><path d="M69 0A1 1 0 0 1 86 0"/><path d="M72 0A1 1 0 0 1 86 0"/><path d="M86 0A1 1 0 0 1 110 0"/><path d="M86 0A1 1 0 0 1 113 0"/>
<path d="M61 0A1 1 0 0 1 75 0"/><path d="M62 0A1 1 0 0 1 75 0"/><path d="M67 0A1 1 0 0 1 75 0"/><path d="M72 0A1 1 0 0 1 75 0"/><path d="M75 0A1 1 0 0 1 81 0"/><path d="M75 0A1 1 0 0 1 82 0"/><path d="M75 0A1 1 0 0 1 88 0"/><path d="M75 0A1 1 0 0 1 94 0"/><path d="M75 0A1 1 0 0 1 100 0"/><path d="M75 0A1 1 0 0 1 103 0"/><path d="M75 0A1 1 0 0 1 110 0"/><path d="M75 0A1 1 0 0 1 114 0"/><path d="M75 0A1 1 0 0 1 116 0"/><path d="M49 0A1 1 0 0 1 75 0"/><path d="M36 0A1 1 0 0 1 75 0"/><path d="M37 0A1 1 0 0 1 75 0"/>
<path class="b" d="M90 0A1 1 0 0 1 91 0"/><path d="M83 0A1 1 0 0 1 90 0"/><path d="M70 0A1 1 0 0 1 90 0"/><path d="M68 0A1 1 0 0 1 90 0"/><path d="M60 0A1 1 0 0 1 90 0"/><path d="M64 0A1 1 0 0 1 90 0"/><path d="M80 0A1 1 0 0 1 90 0"/><path d="M90 0A1 1 0 0 1 113 0"/><path d="M44 0A1 1 0 0 1 90 0"/><path d="M65 0A1 1 0 0 1 90 0"/><path d="M90 0A1 1 0 0 1 92 0"/><path d="M81 0A1 1 0 0 1 90 0"/><path d="M88 0A1 1 0 0 1 90 0"/>
<path d="M91 0A1 1 0 0 1 92 0"/><path d="M80 0A1 1 0 0 1 91 0"/><path d="M83 0A1 1 0 0 1 91 0"/><path d="M70 0A1 1 0 0 1 91 0"/><path d="M68 0A1 1 0 0 1 91 0"/><path d="M60 0A1 1 0 0 1 91 0"/><path d="M64 0A1 1 0 0 1 91 0"/><path d="M91 0A1 1 0 0 1 113 0"/><path d="M44 0A1 1 0 0 1 91 0"/><path d="M65 0A1 1 0 0 1 91 0"/><path d="M53 0A1 1 0 0 1 91 0"/><path d="M50 0A1 1 0 0 1 91 0"/><path d="M59 0A1 1 0 0 1 91 0"/><path d="M85 0A1 1 0 0 1 91 0"/><path d="M91 0A1 1 0 0 1 105 0"/>
<path class="b" d="M4 0A1 1 0 0 1 7 0"/><path d="M4 0A1 1 0 0 1 8 0"/><path d="M4 0A1 1 0 0 1 14 0"/><path d="M4 0A1 1 0 0 1 15 0"/><path d="M4 0A1 1 0 0 1 16 0"/><path d="M4 0A1 1 0 0 1 22 0"/><path d="M4 0A1 1 0 0 1 24 0"/><path d="M4 0A1 1 0 0 1 31 0"/><path d="M4 0A1 1 0 0 1 35 0"/><path d="M4 0A1 1 0 0 1 45 0"/><path d="M4 0A1 1 0 0 1 50 0"/><path d="M4 0A1 1 0 0 1 53 0"/><path d="M4 0A1 1 0 0 1 59 0"/><path d="M4 0A1 1 0 0 1 65 0"/>
<path d="M7 0A1 1 0 0 1 8 0"/><path d="M7 0A1 1 0 0 1 22 0"/><path d="M7 0A1 1 0 0 1 24 0"/><path d="M7 0A1 1 0 0 1 31 0"/><path d="M7 0A1 1 0 0 1 35 0"/><path d="M7 0A1 1 0 0 1 45 0"/><path d="M7 0A1 1 0 0 1 50 0"/><path d="M7 0A1 1 0 0 1 53 0"/><path d="M7 0A1 1 0 0 1 59 0"/><path d="M7 0A1 1 0 0 1 65 0"/><path d="M7 0A1 1 0 0 1 85 0"/>
<path d="M1 0A1 1 0 0 1 8 0"/><path d="M8 0A1 1 0 0 1 35 0"/><path d="M8 0A1 1 0 0 1 22 0"/><path d="M8 0A1 1 0 0 1 24 0"/><path d="M8 0A1 1 0 0 1 31 0"/><path d="M8 0A1 1 0 0 1 45 0"/>
<path d="M10 0A1 1 0 0 1 20 0"/><path d="M10 0A1 1 0 0 1 21 0"/><path d="M10 0A1 1 0 0 1 25 0"/><path d="M10 0A1 1 0 0 1 30 0"/><path d="M10 0A1 1 0 0 1 32 0"/><path d="M10 0A1 1 0 0 1 38 0"/><path d="M10 0A1 1 0 0 1 41 0"/><path d="M10 0A1 1 0 0 1 47 0"/><path d="M10 0A1 1 0 0 1 57 0"/><path d="M10 0A1 1 0 0 1 104 0"/>
<path d="M95 0A1 1 0 0 1 102 0"/><path d="M96 0A1 1 0 0 1 102 0"/><path d="M102 0A1 1 0 0 1 104 0"/><path d="M102 0A1 1 0 0 1 106 0"/><path d="M102 0A1 1 0 0 1 107 0"/><path d="M102 0A1 1 0 0 1 111 0"/><path d="M102 0A1 1 0 0 1 115 0"/><path d="M71 0A1 1 0 0 1 102 0"/><path d="M54 0A1 1 0 0 1 102 0"/><path d="M66 0A1 1 0 0 1 102 0"/>
<path d="M100 0A1 1 0 0 1 103 0"/><path d="M72 0A1 1 0 0 1 103 0"/><path d="M88 0A1 1 0 0 1 103 0"/><path d="M67 0A1 1 0 0 1 103 0"/><path d="M69 0A1 1 0 0 1 103 0"/><path d="M81 0A1 1 0 0 1 103 0"/><path d="M51 0A1 1 0 0 1 103 0"/><path d="M16 0A1 1 0 0 1 103 0"/><path d="M15 0A1 1 0 0 1 103 0"/><path d="M14 0A1 1 0 0 1 103 0"/>
<path d="M110 0A1 1 0 0 1 114 0"/><path d="M110 0A1 1 0 0 1 116 0"/><path d="M110 0A1 1 0 0 1 112 0"/><path d="M105 0A1 1 0 0 1 110 0"/><path d="M94 0A1 1 0 0 1 110 0"/><path d="M85 0A1 1 0 0 1 110 0"/><path d="M82 0A1 1 0 0 1 110 0"/><path d="M61 0A1 1 0 0 1 110 0"/><path d="M62 0A1 1 0 0 1 110 0"/><path d="M49 0A1 1 0 0 1 110 0"/><path d="M37 0A1 1 0 0 1 110 0"/><path d="M36 0A1 1 0 0 1 110 0"/><path d="M48 0A1 1 0 0 1 110 0"/>
<path d="M111 0A1 1 0 0 1 115 0"/><path d="M106 0A1 1 0 0 1 111 0"/><path d="M107 0A1 1 0 0 1 111 0"/><path d="M93 0A1 1 0 0 1 111 0"/><path d="M87 0A1 1 0 0 1 111 0"/><path d="M76 0A1 1 0 0 1 111 0"/><path d="M63 0A1 1 0 0 1 111 0"/><path d="M58 0A1 1 0 0 1 111 0"/><path d="M40 0A1 1 0 0 1 111 0"/><path d="M13 0A1 1 0 0 1 111 0"/>
<path d="M114 0A1 1 0 0 1 116 0"/><path d="M94 0A1 1 0 0 1 114 0"/><path d="M82 0A1 1 0 0 1 114 0"/><path d="M62 0A1 1 0 0 1 114 0"/><path d="M61 0A1 1 0 0 1 114 0"/><path d="M49 0A1 1 0 0 1 114 0"/><path d="M48 0A1 1 0 0 1 114 0"/><path d="M39 0A1 1 0 0 1 114 0"/><path d="M1 0A1 1 0 0 1 114 0"/>
<path d="M95 0A1 1 0 0 1 115 0"/><path d="M96 0A1 1 0 0 1 115 0"/><path d="M77 0A1 1 0 0 1 115 0"/><path d="M78 0A1 1 0 0 1 115 0"/><path d="M74 0A1 1 0 0 1 115 0"/><path d="M73 0A1 1 0 0 1 115 0"/><path d="M89 0A1 1 0 0 1 115 0"/><path d="M84 0A1 1 0 0 1 115 0"/><path d="M57 0A1 1 0 0 1 115 0"/><path d="M39 0A1 1 0 0 1 115 0"/><path d="M23 0A1 1 0 0 1 115 0"/>
<path d="M94 0A1 1 0 0 1 116 0"/><path d="M82 0A1 1 0 0 1 116 0"/><path d="M1 0A1 1 0 0 1 116 0"/><path d="M8 0A1 1 0 0 1 116 0"/><path d="M48 0A1 1 0 0 1 116 0"/><path d="M39 0A1 1 0 0 1 116 0"/>
<path d="M73 0A1 1 0 0 1 74 0"/><path d="M73 0A1 1 0 0 1 77 0"/><path d="M74 0A1 1 0 0 1 77 0"/><path d="M74 0A1 1 0 0 1 79 0"/><path d="M77 0A1 1 0 0 1 79 0"/><path d="M74 0A1 1 0 0 1 89 0"/><path d="M77 0A1 1 0 0 1 96 0"/><path d="M78 0A1 1 0 0 1 96 0"/><path d="M74 0A1 1 0 0 1 96 0"/><path d="M78 0A1 1 0 0 1 84 0"/><path d="M89 0A1 1 0 0 1 96 0"/><path d="M73 0A1 1 0 0 1 96 0"/><path d="M48 0A1 1 0 0 1 74 0"/><path d="M39 0A1 1 0 0 1 77 0"/><path d="M23 0A1 1 0 0 1 74 0"/><path d="M23 0A1 1 0 0 1 39 0"/><path d="M39 0A1 1 0 0 1 48 0"/><path d="M48 0A1 1 0 0 1 57 0"/>
<path d="M43 0A1 1 0 0 1 56 0"/><path d="M56 0A1 1 0 0 1 60 0"/><path d="M43 0A1 1 0 0 1 54 0"/><path d="M53 0A1 1 0 0 1 56 0"/><path d="M56 0A1 1 0 0 1 65 0"/><path d="M56 0A1 1 0 0 1 91 0"/><path d="M43 0A1 1 0 0 1 53 0"/>
<path d="M13 0A1 1 0 0 1 18 0"/><path d="M13 0A1 1 0 0 1 19 0"/><path d="M18 0A1 1 0 0 1 19 0"/><path d="M18 0A1 1 0 0 1 20 0"/><path d="M19 0A1 1 0 0 1 20 0"/><path d="M20 0A1 1 0 0 1 21 0"/><path d="M20 0A1 1 0 0 1 25 0"/><path d="M21 0A1 1 0 0 1 25 0"/><path d="M25 0A1 1 0 0 1 26 0"/><path d="M26 0A1 1 0 0 1 27 0"/><path d="M27 0A1 1 0 0 1 32 0"/><path d="M26 0A1 1 0 0 1 32 0"/><path d="M32 0A1 1 0 0 1 38 0"/><path d="M38 0A1 1 0 0 1 40 0"/><path d="M40 0A1 1 0 0 1 41 0"/><path d="M40 0A1 1 0 0 1 42 0"/><path d="M42 0A1 1 0 0 1 43 0"/><path d="M42 0A1 1 0 0 1 47 0"/><path d="M43 0A1 1 0 0 1 47 0"/><path d="M47 0A1 1 0 0 1 54 0"/><path d="M54 0A1 1 0 0 1 58 0"/><path d="M58 0A1 1 0 0 1 63 0"/><path d="M63 0A1 1 0 0 1 66 0"/><path d="M66 0A1 1 0 0 1 71 0"/><path d="M71 0A1 1 0 0 1 76 0"/><path d="M76 0A1 1 0 0 1 87 0"/><path d="M87 0A1 1 0 0 1 93 0"/><path d="M93 0A1 1 0 0 1 95 0"/><path d="M95 0A1 1 0 0 1 96 0"/>
<path d="M14 0A1 1 0 0 1 15 0"/><path d="M15 0A1 1 0 0 1 16 0"/><path d="M14 0A1 1 0 0 1 16 0"/><path d="M16 0A1 1 0 0 1 34 0"/><path d="M34 0A1 1 0 0 1 51 0"/><path d="M51 0A1 1 0 0 1 67 0"/><path d="M67 0A1 1 0 0 1 69 0"/><path d="M69 0A1 1 0 0 1 72 0"/><path d="M72 0A1 1 0 0 1 81 0"/><path d="M81 0A1 1 0 0 1 88 0"/><path d="M88 0A1 1 0 0 1 100 0"/><path d="M36 0A1 1 0 0 1 37 0"/><path d="M37 0A1 1 0 0 1 49 0"/><path d="M49 0A1 1 0 0 1 61 0"/><path d="M61 0A1 1 0 0 1 62 0"/><path d="M62 0A1 1 0 0 1 82 0"/><path d="M82 0A1 1 0 0 1 94 0"/><path d="M94 0A1 1 0 0 1 105 0"/><path d="M105 0A1 1 0 0 1 112 0"/><path d="M44 0A1 1 0 0 1 60 0"/><path d="M60 0A1 1 0 0 1 64 0"/><path d="M64 0A1 1 0 0 1 68 0"/><path d="M68 0A1 1 0 0 1 70 0"/><path d="M70 0A1 1 0 0 1 80 0"/><path d="M80 0A1 1 0 0 1 83 0"/><path d="M83 0A1 1 0 0 1 113 0"/><path d="M22 0A1 1 0 0 1 24 0"/><path d="M24 0A1 1 0 0 1 31 0"/><path d="M31 0A1 1 0 0 1 35 0"/><path d="M35 0A1 1 0 0 1 45 0"/><path d="M45 0A1 1 0 0 1 50 0"/><path d="M50 0A1 1 0 0 1 53 0"/><path d="M53 0A1 1 0 0 1 59 0"/><path d="M59 0A1 1 0 0 1 65 0"/><path d="M65 0A1 1 0 0 1 92 0"/><path d="M92 0A1 1 0 0 1 101 0"/><path d="M3 0A1 1 0 0 1 5 0"/><path d="M5 0A1 1 0 0 1 9 0"/><path d="M9 0A1 1 0 0 1 11 0"/><path d="M11 0A1 1 0 0 1 17 0"/><path d="M17 0A1 1 0 0 1 44 0"/>
</g>
</svg>
